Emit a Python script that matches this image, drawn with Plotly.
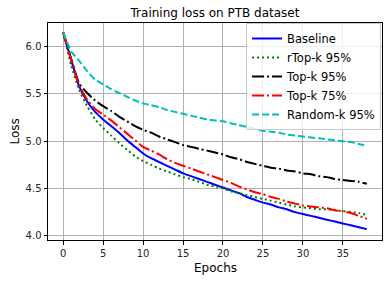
import plotly.graph_objects as go

epochs = list(range(39))

baseline = [6.15, 5.86, 5.58, 5.42, 5.31, 5.23, 5.16, 5.09, 5.01, 4.94,
            4.87, 4.82, 4.78, 4.74, 4.70, 4.66, 4.63, 4.60, 4.57, 4.54,
            4.51, 4.48, 4.45, 4.41, 4.38, 4.35, 4.33, 4.30, 4.28, 4.25,
            4.23, 4.21, 4.19, 4.17, 4.15, 4.13, 4.11, 4.09, 4.07]

rtopk_95 = [6.15, 5.80, 5.54, 5.37, 5.23, 5.14, 5.06, 4.98, 4.91, 4.84,
            4.79, 4.75, 4.71, 4.68, 4.65, 4.62, 4.60, 4.57, 4.54, 4.52,
            4.50, 4.47, 4.45, 4.43, 4.41, 4.39, 4.37, 4.35, 4.33, 4.31,
            4.30, 4.29, 4.28, 4.28, 4.27, 4.26, 4.25, 4.24, 4.22]

topk_95 = [6.15, 5.87, 5.61, 5.51, 5.43, 5.37, 5.32, 5.26, 5.21, 5.16,
           5.12, 5.09, 5.05, 5.02, 4.99, 4.96, 4.94, 4.92, 4.90, 4.88,
           4.86, 4.83, 4.81, 4.78, 4.76, 4.74, 4.72, 4.71, 4.69, 4.68,
           4.66, 4.65, 4.63, 4.62, 4.60, 4.59, 4.58, 4.57, 4.55]

topk_75 = [6.15, 5.86, 5.59, 5.44, 5.34, 5.28, 5.22, 5.15, 5.08, 5.01,
           4.94, 4.90, 4.86, 4.81, 4.77, 4.74, 4.71, 4.68, 4.65, 4.62,
           4.59, 4.56, 4.52, 4.49, 4.46, 4.44, 4.41, 4.39, 4.36, 4.34,
           4.32, 4.31, 4.30, 4.29, 4.27, 4.26, 4.24, 4.21, 4.18]

randomk_95 = [6.15, 5.95, 5.85, 5.74, 5.65, 5.60, 5.55, 5.51, 5.47, 5.43,
              5.40, 5.38, 5.36, 5.33, 5.31, 5.29, 5.27, 5.25, 5.23, 5.22,
              5.21, 5.19, 5.17, 5.15, 5.13, 5.11, 5.10, 5.09, 5.07, 5.06,
              5.05, 5.04, 5.03, 5.02, 5.01, 5.00, 4.99, 4.97, 4.95]

x_ticks = [0, 5, 10, 15, 20, 25, 30, 35]
y_ticks = [4.0, 4.5, 5.0, 5.5, 6.0]
y_tick_text = ["4.0", "4.5", "5.0", "5.5", "6.0"]

series = [
    ("Baseline", baseline, "#0000ff", "solid"),
    ("rTop-k 95%", rtopk_95, "#008000", "2px,3px"),
    ("Top-k 95%", topk_95, "#000000", "12px,3px,2px,3px"),
    ("Top-k 75%", topk_75, "#ff0000", "12px,3px,2px,3px"),
    ("Random-k 95%", randomk_95, "#00bfbf", "7px,3px"),
]

fig = go.Figure()
for name, vals, color, dash in series:
    fig.add_trace(go.Scatter(x=epochs, y=vals, mode="lines", name=name,
                             line=dict(color=color, width=2, dash=dash, shape="spline",
                                       smoothing=0.4)))

font_family = "DejaVu Sans"
axis_common = dict(showline=True, linecolor="#000000", linewidth=1, mirror=True,
                   showgrid=True, gridcolor="#b0b0b0", gridwidth=0.8,
                   ticks="outside", ticklen=3.5, tickcolor="#000000",
                   tickfont=dict(family=font_family, size=10, color="#262626"),
                   zeroline=False, automargin=False)

fig.update_layout(
    width=392, height=281,
    margin=dict(l=48, r=10, t=23, b=41, autoexpand=False),
    paper_bgcolor="white", plot_bgcolor="white",
    title=dict(text="Training loss on PTB dataset", x=(48 + 382) / 2 / 392, xref="container",
               y=1 - 13 / 281, yref="container", xanchor="center", yanchor="middle",
               font=dict(family=font_family, size=12, color="#000000")),
    xaxis=dict(range=[-1.9, 39.9], tickvals=x_ticks, **axis_common),
    yaxis=dict(range=[3.955, 6.25], tickvals=y_ticks, ticktext=y_tick_text, **axis_common),
    legend=dict(x=0.593, y=1.0, xanchor="left", yanchor="top",
                bgcolor="rgba(255,255,255,0.8)", bordercolor="#cccccc", borderwidth=1,
                font=dict(family=font_family, size=11.5, color="#000000"),
                tracegroupgap=0, itemwidth=30),
    showlegend=True,
    annotations=[
        dict(text="Epochs", xref="paper", yref="paper", x=0.5, y=(240 - 268) / 217,
             xanchor="center", yanchor="middle", showarrow=False,
             font=dict(family=font_family, size=12, color="#000000")),
        dict(text="Loss", xref="paper", yref="paper", x=(14 - 48) / 334, y=0.5,
             xanchor="center", yanchor="middle", showarrow=False, textangle=-90,
             font=dict(family=font_family, size=12, color="#000000")),
    ],
)

fig.write_html("out.html", config={"displayModeBar": False},
               post_script="document.body.style.margin='0px';")
